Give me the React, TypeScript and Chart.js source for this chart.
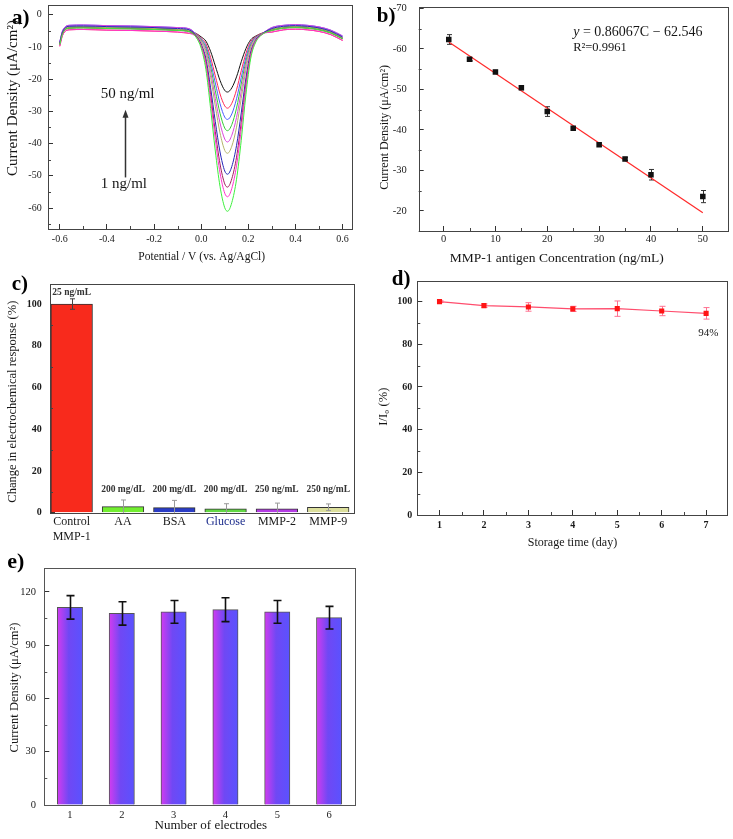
import React, { useEffect, useRef } from "react";
import { Chart, registerables } from "chart.js";

Chart.register(...registerables);

const FONT = "'Liberation Serif', 'Times New Roman', serif";
const fnt = (size: number, style = "") => `${style} ${size}px ${FONT}`.trim();

// ---------------- Panel a: DPV curves ----------------
const potentialV = [-0.6, -0.59, -0.58, -0.56, -0.5, -0.4, -0.3, -0.2, -0.1, -0.05, -0.02, 0, 0.02, 0.04, 0.06, 0.08, 0.1, 0.112, 0.13, 0.15, 0.17, 0.19, 0.21, 0.23, 0.26, 0.3, 0.35, 0.4, 0.45, 0.5, 0.55, 0.6];
const dpv1 = [-9.3, -6.3, -4.9, -4.2, -4.1, -4.3, -4.4, -4.6, -4.9, -5.3, -7.2, -10.4, -17.0, -29.1, -42.3, -53.3, -59.9, -61.0, -58.3, -51.1, -39.0, -24.7, -13.7, -8.8, -6.1, -4.9, -4.2, -4.0, -4.2, -4.7, -5.7, -7.5];
const dpv5 = [-9.8, -6.8, -5.4, -4.7, -4.6, -4.8, -4.9, -5.1, -5.4, -5.8, -7.0, -9.8, -15.6, -26.5, -38.7, -49.1, -55.4, -56.5, -53.9, -46.9, -35.6, -22.6, -12.8, -8.5, -6.0, -5.4, -4.7, -4.5, -4.7, -5.2, -6.2, -8.0];
const dpv10 = [-9.3, -6.3, -4.9, -4.2, -4.1, -4.3, -4.4, -4.6, -4.9, -5.3, -6.8, -9.5, -14.7, -24.8, -36.3, -46.3, -52.5, -53.5, -50.9, -44.2, -33.4, -21.3, -12.3, -8.3, -6.0, -4.9, -4.2, -4.0, -4.2, -4.7, -5.7, -7.5];
const dpv15 = [-8.7, -5.7, -4.3, -3.6, -3.5, -3.7, -3.8, -4.0, -4.3, -4.7, -6.7, -9.1, -13.6, -22.7, -33.2, -42.6, -48.5, -49.5, -47.1, -40.6, -30.5, -19.6, -11.6, -8.0, -5.9, -4.3, -3.6, -3.4, -3.6, -4.1, -5.1, -6.9];
const dpv20 = [-9.0, -6.0, -4.6, -3.9, -3.8, -4.0, -4.1, -4.3, -4.6, -5.0, -6.4, -8.4, -12.0, -19.4, -28.4, -36.7, -42.1, -43.0, -40.8, -34.9, -26.0, -17.0, -10.4, -7.7, -5.9, -4.6, -3.9, -3.7, -3.9, -4.4, -5.4, -7.2];
const dpv25 = [-8.4, -5.4, -4.0, -3.3, -3.2, -3.4, -3.5, -3.7, -4.0, -4.4, -6.3, -8.1, -11.2, -17.7, -26.0, -33.6, -38.6, -39.5, -37.4, -31.9, -23.8, -15.6, -9.9, -7.5, -5.8, -4.0, -3.3, -3.1, -3.3, -3.8, -4.8, -6.6];
const dpv30 = [-9.2, -6.2, -4.8, -4.1, -4.0, -4.2, -4.3, -4.5, -4.8, -5.2, -6.2, -7.8, -10.4, -16.1, -23.6, -30.6, -35.2, -36.0, -34.1, -29.0, -21.5, -14.4, -9.4, -7.3, -5.8, -4.8, -4.1, -3.9, -4.1, -4.6, -5.6, -7.4];
const dpv35 = [-8.4, -5.4, -4.0, -3.3, -3.2, -3.4, -3.5, -3.7, -4.0, -4.4, -6.1, -7.5, -9.7, -14.7, -21.2, -27.6, -31.8, -32.5, -30.8, -26.1, -19.5, -13.2, -8.9, -7.1, -5.8, -4.0, -3.3, -3.1, -3.3, -3.8, -4.8, -6.6];
const dpv40 = [-9.8, -6.8, -5.4, -4.7, -4.6, -4.8, -4.9, -5.1, -5.4, -5.8, -6.0, -7.2, -9.0, -13.3, -19.0, -24.6, -28.3, -29.0, -27.5, -23.3, -17.4, -12.0, -8.4, -6.9, -5.7, -5.4, -4.7, -4.5, -4.7, -5.2, -6.2, -8.0];
const dpv50 = [-9.0, -6.0, -4.6, -3.9, -3.8, -4.0, -4.1, -4.3, -4.6, -5.0, -5.9, -6.9, -8.2, -11.4, -15.9, -20.4, -23.5, -24.0, -22.7, -19.3, -14.6, -10.5, -7.8, -6.7, -5.7, -4.6, -3.9, -3.7, -3.9, -4.4, -5.4, -7.2];
const dpvCurves = [dpv1, dpv5, dpv10, dpv15, dpv20, dpv25, dpv30, dpv35, dpv40, dpv50];
const dpvColors = ["#3cf03c", "#ff33cc", "#a0205a", "#2424b8", "#b4b46a", "#dd44dd", "#33cc33", "#4a5cff", "#ff2a55", "#111111"];

// ---------------- Panel b: calibration ----------------
const concB = [1, 5, 10, 15, 20, 25, 30, 35, 40, 50];
const densityB = [-62.3, -57.4, -54.3, -50.4, -44.5, -40.4, -36.3, -32.8, -28.9, -23.5];
const errB = [1.2, 0.4, 0.4, 0.5, 1.2, 0.4, 0.4, 0.4, 1.3, 1.5];
const fitSlope = 0.86067;
const fitIntercept = -62.546;

// ---------------- Panel c: selectivity ----------------
const interferents: (string | string[])[] = [["Control", "MMP-1"], "AA", "BSA", "Glucose", "MMP-2", "MMP-9"];
const responseC = [100, 2.9, 2.4, 1.8, 1.9, 2.6];
const errC = [2.5, 3.2, 3.5, 2.5, 2.7, 1.6];
const amountC = ["25 ng/mL", "200 mg/dL", "200 mg/dL", "200 mg/dL", "250 ng/mL", "250 ng/mL"];
const colorsC = ["#f82a1c", "#72ee30", "#2a3cc6", "#62d844", "#b43ce4", "#dcdf9c"];

// ---------------- Panel d: stability ----------------
const days = [1, 2, 3, 4, 5, 6, 7];
const ratioD = [100, 98.1, 97.5, 96.6, 96.7, 95.6, 94.5];
const errD = [0.4, 0.8, 2.0, 1.2, 3.6, 2.2, 2.7];

// ---------------- Panel e: reproducibility ----------------
const electrodes = [1, 2, 3, 4, 5, 6];
const densityE = [111.2, 107.8, 108.7, 109.9, 108.7, 105.4];
const errE = [6.6, 6.6, 6.4, 6.7, 6.4, 6.4];

// ---------------- helpers ----------------
type TextItem = {
  text?: string;
  parts?: { text: string; font: string }[];
  x?: number; y?: number; xv?: number; yv?: number;
  font?: string; color?: string;
  align?: "left" | "center" | "right";
  baseline?: CanvasTextBaseline;
  rotate?: number;
};

function textsPlugin(items: TextItem[]) {
  return {
    id: "texts",
    afterDraw(chart: any) {
      const ctx = chart.ctx as CanvasRenderingContext2D;
      for (const it of items) {
        let x = it.x ?? 0;
        let y = it.y ?? 0;
        if (it.xv !== undefined) x = chart.scales.x.getPixelForValue(it.xv);
        if (it.yv !== undefined) y = chart.scales.y.getPixelForValue(it.yv);
        ctx.save();
        ctx.translate(x, y);
        if (it.rotate) ctx.rotate(it.rotate);
        ctx.fillStyle = it.color || "#161616";
        ctx.textBaseline = it.baseline || "alphabetic";
        ctx.textAlign = "left";
        const parts = it.parts || [{ text: it.text || "", font: it.font || fnt(12) }];
        let total = 0;
        for (const p of parts) { ctx.font = p.font; total += ctx.measureText(p.text).width; }
        let cx = it.align === "center" ? -total / 2 : it.align === "right" ? -total : 0;
        for (const p of parts) { ctx.font = p.font; ctx.fillText(p.text, cx, 0); cx += ctx.measureText(p.text).width; }
        ctx.restore();
      }
    },
  };
}

function frameTicks(minorX: number | null, minorY: number | null, color = "#444", xMinor = true) {
  return {
    id: "frameTicks",
    afterDraw(chart: any) {
      const { ctx, chartArea: a } = chart;
      ctx.save();
      ctx.strokeStyle = color;
      ctx.lineWidth = 1;
      ctx.strokeRect(Math.round(a.left) + 0.5, Math.round(a.top) + 0.5, Math.round(a.right - a.left), Math.round(a.bottom - a.top));
      const len = 3;
      const drawMinor = (scale: any, step: number | null, horizontal: boolean) => {
        if (!step) return;
        const majors = new Set(scale.ticks.map((t: any) => Math.round(t.value * 1e6)));
        const start = Math.ceil(scale.min / step - 1e-9);
        const end = Math.floor(scale.max / step + 1e-9);
        for (let k = start; k <= end; k++) {
          const v = k * step;
          if (majors.has(Math.round(v * 1e6))) continue;
          const p = Math.round(scale.getPixelForValue(v)) + 0.5;
          ctx.beginPath();
          if (horizontal) { ctx.moveTo(p, a.bottom); ctx.lineTo(p, a.bottom - len); }
          else { ctx.moveTo(a.left, p); ctx.lineTo(a.left + len, p); }
          ctx.stroke();
        }
      };
      if (xMinor) drawMinor(chart.scales.x, minorX, true);
      drawMinor(chart.scales.y, minorY, false);
      ctx.restore();
    },
  };
}

function errorBars(dsIndex: number, errors: number[], colors: string | string[], width: number, cap: number, behind: boolean) {
  const draw = (chart: any) => {
    const meta = chart.getDatasetMeta(dsIndex);
    const data = chart.data.datasets[dsIndex].data;
    const ys = chart.scales.y;
    const a = chart.chartArea;
    const ctx = chart.ctx as CanvasRenderingContext2D;
    ctx.save();
    ctx.beginPath();
    ctx.rect(a.left, a.top, a.right - a.left, a.bottom - a.top);
    ctx.clip();
    ctx.lineWidth = width;
    meta.data.forEach((el: any, i: number) => {
      const v = data[i].y;
      const e = errors[i];
      const x = Math.round(el.x) + 0.5;
      const y1 = ys.getPixelForValue(v + e);
      const y2 = ys.getPixelForValue(v - e);
      ctx.strokeStyle = Array.isArray(colors) ? colors[i] : colors;
      ctx.beginPath();
      ctx.moveTo(x, y1); ctx.lineTo(x, y2);
      ctx.moveTo(x - cap / 2, y1); ctx.lineTo(x + cap / 2, y1);
      ctx.moveTo(x - cap / 2, y2); ctx.lineTo(x + cap / 2, y2);
      ctx.stroke();
    });
    ctx.restore();
  };
  return {
    id: "errorBars",
    beforeDatasetsDraw(chart: any) { if (behind) draw(chart); },
    afterDatasetsDraw(chart: any) { if (!behind) draw(chart); },
  };
}

function arrowPlugin(xv: number, fromV: number, toV: number) {
  return {
    id: "arrow",
    afterDraw(chart: any) {
      const ctx = chart.ctx as CanvasRenderingContext2D;
      const x = Math.round(chart.scales.x.getPixelForValue(xv)) + 0.5;
      const y1 = chart.scales.y.getPixelForValue(fromV);
      const y2 = chart.scales.y.getPixelForValue(toV);
      ctx.save();
      ctx.strokeStyle = "#333";
      ctx.fillStyle = "#333";
      ctx.lineWidth = 1.5;
      ctx.beginPath(); ctx.moveTo(x, y1); ctx.lineTo(x, y2 + 6); ctx.stroke();
      ctx.beginPath(); ctx.moveTo(x, y2); ctx.lineTo(x - 3, y2 + 8); ctx.lineTo(x + 3, y2 + 8); ctx.closePath(); ctx.fill();
      ctx.restore();
    },
  };
}

function axis(o: any) {
  const a: any = {
    type: "linear",
    min: o.min,
    max: o.max,
    reverse: !!o.reverse,
    offset: false,
    grid: { display: true, offset: false, drawOnChartArea: false, drawTicks: o.drawTicks !== false, tickLength: -5, tickColor: "#333", tickWidth: 1 },
    border: { display: false },
    ticks: {
      stepSize: o.step,
      includeBounds: false,
      autoSkip: false,
      maxRotation: 0,
      minRotation: 0,
      padding: o.pad,
      color: o.color || "#1a1a1a",
      font: { family: FONT, size: o.size, weight: o.bold ? "bold" : "normal" },
    },
    title: { display: false },
    afterFit: (s: any) => {
      if (o.w !== undefined) s.width = o.w;
      if (o.h !== undefined) s.height = o.h;
      s.paddingTop = 0; s.paddingBottom = 0; s.paddingLeft = 0; s.paddingRight = 0;
    },
  };
  if (o.cb) a.ticks.callback = o.cb;
  return a;
}

const common = (padding: any) => ({
  responsive: false,
  maintainAspectRatio: false,
  animation: false,
  devicePixelRatio: 1,
  events: [],
  layout: { padding },
  plugins: { legend: { display: false }, tooltip: { enabled: false } },
});

const ROT = -Math.PI / 2;

// ---------------- configs ----------------
function makeA(): any {
  return {
    type: "line",
    data: {
      datasets: dpvCurves.map((ys, i) => ({
        data: potentialV.map((x, j) => ({ x, y: ys[j] })),
        borderColor: dpvColors[i],
        borderWidth: 1,
        pointRadius: 0,
        cubicInterpolationMode: "monotone",
        fill: false,
      })),
    },
    options: {
      ...common({ left: 0, right: 8, top: 5, bottom: 0 }),
      scales: {
        x: axis({ min: -0.65, max: 0.64, step: 0.2, pad: 9.3, size: 10, h: 41, cb: (v: number) => v.toFixed(1) }),
        y: axis({ min: -66.5, max: 3, step: 10, pad: 11.3, size: 10, w: 48 }),
      },
    },
    plugins: [
      frameTicks(0.1, 5),
      arrowPlugin(-0.324, -50.5, -29.5),
      textsPlugin([
        { text: "a)", x: 12, y: 23.5, font: fnt(21, "bold"), color: "#000" },
        { text: "50 ng/ml", xv: -0.312, yv: -24.5, align: "center", baseline: "middle", font: fnt(15) },
        { text: "1 ng/ml", xv: -0.328, yv: -52.5, align: "center", baseline: "middle", font: fnt(15) },
        { text: "Current Density (μA/cm²)", x: 12.7, y: 98, rotate: ROT, align: "center", baseline: "middle", font: fnt(15) },
        { text: "Potential / V (vs. Ag/AgCl)", x: 201.7, y: 257, align: "center", baseline: "middle", font: fnt(11.5) },
      ]),
    ],
  };
}

function makeB(): any {
  const c0 = concB[0];
  const c1 = concB[concB.length - 1];
  const fitPts = [c0, c1].map((c) => ({ x: c, y: fitSlope * c + fitIntercept }));
  return {
    type: "scatter",
    data: {
      datasets: [
        {
          data: concB.map((x, i) => ({ x, y: densityB[i] })),
          pointStyle: "rect",
          pointRadius: 3.9,
          pointBackgroundColor: "#111",
          pointBorderColor: "#111",
          pointBorderWidth: 0,
          showLine: false,
        },
        {
          type: "line",
          data: fitPts,
          borderColor: "#ff2a2a",
          borderWidth: 1.2,
          pointRadius: 0,
          fill: false,
        },
      ],
    },
    options: {
      ...common({ left: 0, right: 5.3, top: 6.7, bottom: 0 }),
      scales: {
        x: axis({ min: -4.8, max: 54.8, step: 10, pad: 7.1, size: 10.5, h: 39 }),
        y: axis({ min: -70.4, max: -15, step: 10, reverse: true, pad: 17, size: 10.5, w: 58.7 }),
      },
    },
    plugins: [
      frameTicks(5, 5),
      errorBars(0, errB, "#333", 1, 5, true),
      textsPlugin([
        { text: "b)", x: 16.7, y: 21.7, font: fnt(21, "bold"), color: "#000" },
        { parts: [{ text: "y", font: fnt(14, "italic") }, { text: " = 0.86067C − 62.546", font: fnt(14) }], xv: 25, yv: -64.1, baseline: "middle" },
        { text: "R²=0.9961", xv: 25, yv: -60.2, baseline: "middle", font: fnt(12.5) },
        { text: "Current Density (μA/cm²)", x: 25, y: 127.3, rotate: ROT, align: "center", baseline: "middle", font: fnt(12) },
        { text: "MMP-1 antigen Concentration (ng/mL)", x: 196.7, y: 258, align: "center", baseline: "middle", font: fnt(13.5) },
      ]),
    ],
  };
}

function makeC(): any {
  const labelItems: TextItem[] = amountC.map((t, i) => ({
    text: t,
    xv: i + 1,
    yv: i === 0 ? 105.4 : 10.9,
    align: "center",
    baseline: "middle",
    font: fnt(9.5, "bold"),
    color: "#333",
  }));
  return {
    type: "bar",
    data: {
      datasets: [
        {
          data: responseC.map((y, i) => ({ x: i + 1, y })),
          backgroundColor: colorsC,
          borderColor: "#333",
          borderWidth: 1,
          barThickness: 41.6,
        },
      ],
    },
    options: {
      ...common({ left: 0, right: 6, top: 14, bottom: 0 }),
      scales: {
        x: axis({
          min: 0.577, max: 6.503, step: 1, pad: 2.4, size: 12, h: 39.3, drawTicks: false,
          cb: (v: number) => interferents[Math.round(v) - 1] ?? "",
          color: (c: any) => (c.tick && c.tick.value === 4 ? "#1c2c8c" : "#1a1a1a"),
        }),
        y: axis({ min: 0, max: 109.6, step: 20, pad: 13.3, size: 10, bold: true, w: 50 }),
      },
    },
    plugins: [
      frameTicks(null, 10),
      errorBars(0, errC, ["#444", "#999", "#999", "#999", "#999", "#999"], 1, 5, false),
      textsPlugin([
        { text: "c)", x: 11.7, y: 20, font: fnt(21, "bold"), color: "#000" },
        ...labelItems,
        { text: "Change in electrochemical response (%)", x: 12.7, y: 131.7, rotate: ROT, align: "center", baseline: "middle", font: fnt(12.5) },
      ]),
    ],
  };
}

function makeD(): any {
  return {
    type: "line",
    data: {
      datasets: [
        {
          data: days.map((x, i) => ({ x, y: ratioD[i] })),
          borderColor: "#ff4d6d",
          borderWidth: 1.2,
          pointStyle: "rect",
          pointRadius: 3.6,
          pointBackgroundColor: "#ff1414",
          pointBorderColor: "#ff1414",
          pointBorderWidth: 0,
          fill: false,
        },
      ],
    },
    options: {
      ...common({ left: 0, right: 6, top: 10.7, bottom: 0 }),
      scales: {
        x: axis({ min: 0.5, max: 7.47, step: 1, pad: 9, size: 10, bold: true, h: 40 }),
        y: axis({ min: 0, max: 109.8, step: 20, pad: 10, size: 10, bold: true, w: 57.3 }),
      },
    },
    plugins: [
      frameTicks(0.5, 10),
      errorBars(0, errD, "#ff7090", 1, 6, true),
      textsPlugin([
        { text: "d)", x: 31.7, y: 15, font: fnt(21, "bold"), color: "#000" },
        { text: "94%", xv: 7.05, yv: 85.3, align: "center", baseline: "middle", font: fnt(11) },
        { text: "I/I₀ (%)", x: 23.3, y: 136.7, rotate: ROT, align: "center", baseline: "middle", font: fnt(12.5) },
        { text: "Storage time (day)", x: 212.5, y: 273.3, align: "center", baseline: "middle", font: fnt(12) },
      ]),
    ],
  };
}

const BAR_E = 25.3;

function makeE(): any {
  return {
    type: "bar",
    data: {
      datasets: [
        {
          data: electrodes.map((x, i) => ({ x, y: densityE[i] })),
          backgroundColor: (c: any) => {
            const chart = c.chart;
            if (!chart.chartArea || c.type !== "data" || !c.raw) return "#6a4cf5";
            const px = chart.scales.x.getPixelForValue(c.raw.x);
            const g = chart.ctx.createLinearGradient(px - BAR_E / 2, 0, px + BAR_E / 2, 0);
            g.addColorStop(0, "#d23cf0");
            g.addColorStop(0.45, "#7048f4");
            g.addColorStop(1, "#5a52ff");
            return g;
          },
          borderColor: "#555",
          borderWidth: 1,
          barThickness: BAR_E,
        },
      ],
    },
    options: {
      ...common({ left: 0, right: 15, top: 28.3, bottom: 0 }),
      scales: {
        x: axis({ min: 0.505, max: 6.5, step: 1, pad: 3.7, size: 10.5, h: 34, drawTicks: false }),
        y: axis({ min: 0, max: 133.2, step: 30, pad: 13.3, size: 10.5, w: 44.3 }),
      },
    },
    plugins: [
      frameTicks(null, 15, "#555"),
      errorBars(0, errE, "#111", 1.6, 8, false),
      textsPlugin([
        { text: "e)", x: 7.3, y: 28.3, font: fnt(22, "bold"), color: "#000" },
        { text: "Current Density (μA/cm²)", x: 15, y: 147.5, rotate: ROT, align: "center", baseline: "middle", font: fnt(12.5) },
        { text: "Number of electrodes", x: 210.8, y: 285.7, align: "center", baseline: "middle", font: fnt(13) },
      ]),
    ],
  };
}

function ChartPanel({ left, top, width, height, make }: { left: number; top: number; width: number; height: number; make: () => any }) {
  const ref = useRef<HTMLCanvasElement>(null);
  useEffect(() => {
    const chart = new Chart(ref.current as HTMLCanvasElement, make());
    return () => chart.destroy();
  }, []);
  return (
    <canvas
      ref={ref}
      width={width}
      height={height}
      style={{ position: "absolute", left, top, width, height }}
    />
  );
}

export default function App() {
  return (
    <div style={{ position: "absolute", left: 0, top: 0, width: 733, height: 839, background: "#fff", overflow: "hidden" }}>
      <ChartPanel left={0} top={0} width={360} height={270} make={makeA} />
      <ChartPanel left={360} top={0} width={373} height={270} make={makeB} />
      <ChartPanel left={0} top={270} width={360} height={282} make={makeC} />
      <ChartPanel left={360} top={270} width={373} height={285} make={makeD} />
      <ChartPanel left={0} top={540} width={370} height={299} make={makeE} />
    </div>
  );
}
